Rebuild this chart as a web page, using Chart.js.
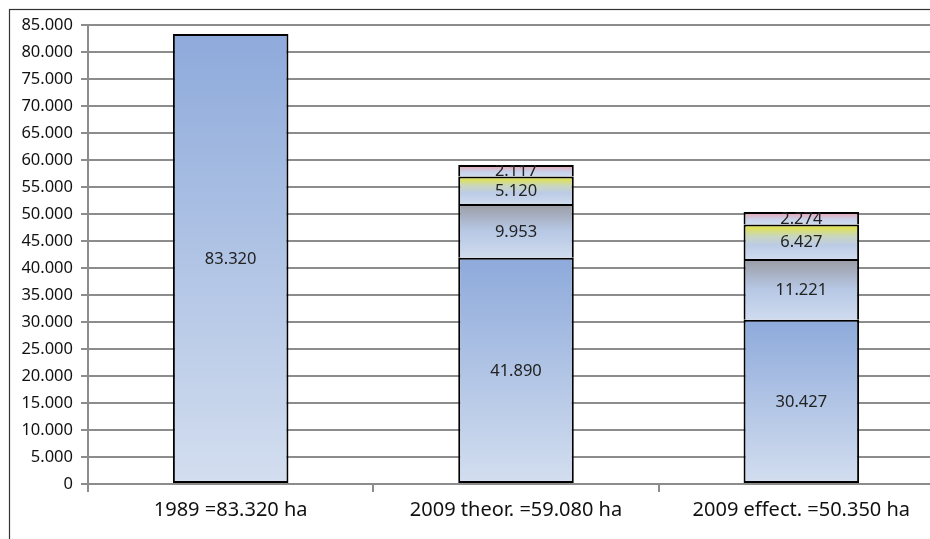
<!DOCTYPE html>
<html>
<head>
<meta charset="utf-8">
<script src="https://cdn.jsdelivr.net/npm/chart.js@4"></script>
<style>
  html, body { margin: 0; padding: 0; background: #fff; overflow: hidden; }
  #wrap { position: absolute; left: 0; top: 0; width: 944px; height: 539px; }
</style>
</head>
<body>
<div id="wrap"><canvas id="chart" width="944" height="539"></canvas></div>
<script>
// categories and stacked series (ha)
const categories = ["1989 =83.320 ha", "2009 theor. =59.080 ha", "2009 effect. =50.350 ha"];
const baseArea = [83320, 41890, 30427];
const grayArea = [null, 9953, 11221];
const yellowArea = [null, 5120, 6427];
const pinkArea = [null, 2117, 2274];
const yMax = 85000;
const yStep = 5000;

const flatColors = ["#a9bfe3", "#b0b8c8", "#d8df90", "#d8b8c8"];
const gradStops = [
  [[0, "#8eaadb"], [1, "#d3deef"]],
  [[0, "#9a9ca4"], [0.5, "#b7c8e5"], [1, "#cfdbee"]],
  [[0, "#e6e632"], [0.35, "#c9d6c0"], [0.6, "#bccbe6"], [1, "#cfdbee"]],
  [[0, "#eb9fae"], [0.6, "#c8d2ea"], [1, "#cfdbee"]]
];

function fmt(n) {
  return String(n).replace(/\B(?=(\d{3})+(?!\d))/g, ".");
}

// each segment gets its own top-to-bottom gradient
function segGradient(c) {
  const chart = c.chart;
  const y = chart.scales.y;
  if (c.type !== "data" || !y) return flatColors[c.datasetIndex];
  let base = 0;
  for (let d = 0; d < c.datasetIndex; d++) base += chart.data.datasets[d].data[c.dataIndex] || 0;
  const top = base + (c.raw || 0);
  const y0 = y.getPixelForValue(top), y1 = y.getPixelForValue(base);
  if (!isFinite(y0) || !isFinite(y1) || y0 === y1) return flatColors[c.datasetIndex];
  const g = chart.ctx.createLinearGradient(0, y0, 0, y1);
  gradStops[c.datasetIndex].forEach(s => g.addColorStop(s[0], s[1]));
  return g;
}

const frame = {
  id: "frame",
  beforeDraw(chart) {
    const ctx = chart.ctx;
    ctx.save();
    ctx.fillStyle = "#fff";
    ctx.fillRect(0, 0, chart.width, chart.height);
    ctx.strokeStyle = "#333";
    ctx.lineWidth = 1.2;
    ctx.strokeRect(9.5, 9.5, 2000, 2000);
    ctx.restore();
  }
};

const valueLabels = {
  id: "valueLabels",
  afterDatasetsDraw(chart) {
    const ctx = chart.ctx;
    chart.data.datasets.forEach((ds, i) => {
      const meta = chart.getDatasetMeta(i);
      meta.data.forEach((el, j) => {
        const v = ds.data[j];
        if (v == null) return;
        const p = el.getProps(["x", "y", "base", "width"], true);
        ctx.save();
        ctx.beginPath();
        ctx.rect(p.x - p.width / 2, p.y, p.width, p.base - p.y);
        ctx.clip();
        ctx.font = "16.5px 'Noto Sans', sans-serif";
        ctx.fillStyle = "#222";
        ctx.textAlign = "center";
        ctx.textBaseline = "middle";
        ctx.fillText(fmt(v), p.x, (p.y + p.base) / 2 + 1);
        ctx.restore();
      });
    });
  }
};

const series = [baseArea, grayArea, yellowArea, pinkArea];

new Chart(document.getElementById("chart"), {
  type: "bar",
  data: {
    labels: categories,
    datasets: series.map((arr, i) => ({
      data: arr,
      backgroundColor: segGradient,
      borderColor: "#000",
      borderWidth: 2,
      borderSkipped: i === 0 ? false : "bottom",
      categoryPercentage: 1,
      barPercentage: 0.405
    }))
  },
  options: {
    responsive: false,
    animation: false,
    layout: { padding: { top: 25, right: 0, bottom: 0, left: 0 } },
    plugins: { legend: { display: false }, tooltip: { enabled: false } },
    scales: {
      x: {
        stacked: true,
        grid: { drawOnChartArea: false, drawTicks: true, tickLength: 8, color: "#8c8c8c", lineWidth: 2 },
        border: { display: true, color: "#8c8c8c", width: 2 },
        ticks: { color: "#111", font: { family: "'Noto Sans', sans-serif", size: 20 }, padding: 6, maxRotation: 0, autoSkip: false },
        afterFit(s) { s.height = 55; }
      },
      y: {
        stacked: true,
        min: 0,
        max: yMax,
        grid: { color: "#8c8c8c", lineWidth: 2, tickLength: 7 },
        border: { display: true, color: "#8c8c8c", width: 2 },
        ticks: {
          stepSize: yStep,
          color: "#111",
          font: { family: "'Noto Sans', sans-serif", size: 16.5 },
          padding: 8,
          callback: v => fmt(v)
        },
        afterFit(s) { s.width = 88; }
      }
    }
  },
  plugins: [frame, valueLabels]
});
</script>
</body>
</html>
